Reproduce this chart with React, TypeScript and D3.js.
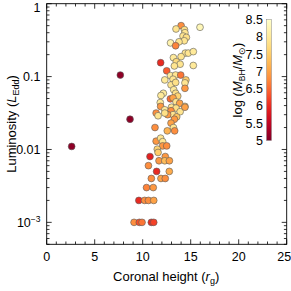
import React from "react";
import * as d3 from "d3";

const heights = [
  2.6, 7.67, 8.68,
  14.0, 13.47, 14.35, 14.4, 14.2, 14.55, 15.97, 14.33, 13.78, 12.9, 13.43,
  14.44, 14.75, 15.27, 14.0, 13.2, 13.5, 13.9, 13.3, 15.27, 11.87, 12.5,
  12.3, 12.9, 13.43, 13.96, 13.16, 12.95, 13.43, 14.5, 14.4, 13.23, 14.4,
  12.15, 11.9, 13.43, 13.65, 12.88, 13.16, 13.47, 13.85, 14.4, 11.83, 11.87,
  12.3, 13.0, 13.47, 12.95, 13.9, 14.4, 11.4, 11.6, 13.16, 12.6, 12.3, 13.54,
  13.3, 12.95, 13.2, 12.56, 13.33, 11.28, 11.4, 11.87, 12.08, 12.08, 12.5,
  11.52, 11.6, 10.76, 12.35, 11.7, 12.3, 12.78, 10.6, 11.45, 12.77,
  10.9, 11.9, 12.35, 10.4, 11.1, 9.6, 10.2, 10.6, 11.15, 9.1, 9.65, 9.93, 10.9, 11.15,
];

const luminosities = [
  0.011, 0.105, 0.026,
  0.5, 0.45, 0.44, 0.4, 0.36, 0.345, 0.475, 0.31, 0.3, 0.29, 0.265,
  0.21, 0.21, 0.22, 0.188, 0.182, 0.16, 0.148, 0.14, 0.142, 0.155, 0.12,
  0.09, 0.103, 0.105, 0.105, 0.092, 0.077, 0.083, 0.09, 0.082, 0.066, 0.069,
  0.059, 0.055, 0.059, 0.054, 0.0495, 0.051, 0.045, 0.043, 0.039, 0.044, 0.039,
  0.035, 0.038, 0.037, 0.034, 0.033, 0.038, 0.0316, 0.029, 0.03, 0.03, 0.0316, 0.028,
  0.026, 0.023, 0.02, 0.018, 0.018, 0.02, 0.013, 0.0143, 0.0128, 0.0112, 0.0112,
  0.0101, 0.0091, 0.008, 0.008, 0.007, 0.007, 0.007, 0.006, 0.005, 0.005,
  0.004, 0.004, 0.004, 0.003, 0.003, 0.002, 0.002, 0.002, 0.002, 0.001, 0.001, 0.001, 0.001, 0.001,
];

const masses = [
  5.1, 5.1, 5.1,
  6.8, 7.9, 7.8, 7.9, 7.9, 7.8, 8.3, 7.9, 7.9, 8.2, 6.7,
  7.9, 7.9, 8.0, 7.9, 8.0, 7.7, 7.9, 7.9, 8.0, 6.0, 6.4,
  8.0, 8.0, 7.9, 6.6, 7.9, 7.9, 7.8, 7.5, 7.9, 8.0, 6.9,
  8.0, 8.0, 7.8, 7.6, 6.5, 7.0, 7.9, 7.0, 7.9, 8.0, 6.9,
  8.0, 7.9, 7.8, 6.8, 7.9, 7.0, 6.8, 7.9, 7.9, 6.9, 7.8, 7.4,
  6.9, 7.0, 7.9, 7.2, 6.8, 6.8, 6.9, 7.9, 7.9, 6.9, 6.8,
  7.6, 7.5, 5.9, 6.9, 6.9, 7.3, 7.0, 6.8, 6.0, 7.1,
  6.8, 7.0, 6.8, 6.7, 6.9, 6.0, 6.8, 6.8, 7.0, 6.8, 6.3, 6.6, 6.0, 6.2,
];

const xTicks = [0, 5, 10, 15, 20, 25];
const yTicks = [0.001, 0.01, 0.1, 1];
const yTickLabels = ["10-3", "0.01", "0.1", "1"];
const cbTicks = [5, 5.5, 6, 6.5, 7, 7.5, 8, 8.5];
const cbTickLabels = ["5", "5.5", "6", "6.5", "7", "7.5", "8", "8.5"];

const FONT = "'Liberation Sans', Arial, Helvetica, sans-serif";

export default function App() {
  const L = 46.7, R = 286.7, T = 3.7, B = 244.3;
  const x = d3.scaleLinear().domain([0, 25]).range([L, R]);
  const y = d3.scaleLog().domain([5e-4, 1]).range([B, T]);
  const massDomain: [number, number] = [5, 8.5];
  const color = (m: number) =>
    d3.interpolateYlOrRd(1 - (m - massDomain[0]) / (massDomain[1] - massDomain[0]));

  const cbX = 266.5, cbW = 5;
  const cbY = d3.scaleLinear().domain(massDomain).range([140.5, 19.5]);

  const minorX = d3.range(0, 26, 1).filter((v) => v % 5 !== 0);
  const minorY: number[] = [];
  for (let k = -4; k <= -1; k++) {
    for (let m = 2; m <= 9; m++) {
      const v = m * Math.pow(10, k);
      if (v >= 5e-4 && v < 1) minorY.push(v);
    }
  }

  const stops = d3.range(0, 1.0001, 0.05);

  return (
    <svg
      width={291}
      height={291}
      style={{ position: "absolute", left: 0, top: 0, background: "#fff" }}
      fontFamily={FONT}
    >
      <defs>
        <linearGradient id="cb" x1="0" y1="1" x2="0" y2="0">
          {stops.map((s) => (
            <stop key={s} offset={s} stopColor={color(massDomain[0] + s * (massDomain[1] - massDomain[0]))} />
          ))}
        </linearGradient>
      </defs>

      {/* ticks */}
      <g stroke="#000" strokeWidth={0.8}>
        {xTicks.map((t) => (
          <g key={"xt" + t}>
            <line x1={x(t)} x2={x(t)} y1={B} y2={B - 5} />
            <line x1={x(t)} x2={x(t)} y1={T} y2={T + 5} />
          </g>
        ))}
        {minorX.map((t) => (
          <g key={"xm" + t}>
            <line x1={x(t)} x2={x(t)} y1={B} y2={B - 2.8} />
            <line x1={x(t)} x2={x(t)} y1={T} y2={T + 2.8} />
          </g>
        ))}
        {yTicks.map((t) => (
          <g key={"yt" + t}>
            <line x1={L} x2={L + 5} y1={y(t)} y2={y(t)} />
            <line x1={R} x2={R - 5} y1={y(t)} y2={y(t)} />
          </g>
        ))}
        {minorY.map((t) => (
          <g key={"ym" + t}>
            <line x1={L} x2={L + 2.8} y1={y(t)} y2={y(t)} />
            <line x1={R} x2={R - 2.8} y1={y(t)} y2={y(t)} />
          </g>
        ))}
      </g>

      {/* points */}
      <g>
        {heights.map((h, i) => (
          <circle
            key={"p" + i}
            cx={x(h)}
            cy={y(luminosities[i])}
            r={3.4}
            fill={color(masses[i])}
            stroke="#5a5a5a"
            strokeWidth={0.6}
          />
        ))}
      </g>

      <rect x={L} y={T} width={R - L} height={B - T} fill="none" stroke="#000" strokeWidth={0.9} />

      {/* x tick labels */}
      <g fontSize={12.5} textAnchor="middle" fill="#000">
        {xTicks.map((t, i) => (
          <text key={"xl" + t} x={i === xTicks.length - 1 ? x(t) - 2.5 : x(t)} y={260.5}>
            {t}
          </text>
        ))}
      </g>

      {/* y tick labels */}
      <g fontSize={12.5} textAnchor="end" fill="#000">
        {yTicks.map((t, i) =>
          yTickLabels[i] === "10-3" ? (
            <text key={"yl" + t} x={40.5} y={y(t) + 4.5}>
              10<tspan fontSize={8.5} dy={-5}>−3</tspan>
            </text>
          ) : (
            <text key={"yl" + t} x={40.5} y={i === yTicks.length - 1 ? y(t) + 8.2 : y(t) + 4.5}>
              {yTickLabels[i]}
            </text>
          )
        )}
      </g>

      {/* axis titles */}
      <text x={(L + R) / 2 - 0.5} y={281} fontSize={13} textAnchor="middle">
        Coronal height (<tspan fontStyle="italic">r</tspan>
        <tspan fontSize={9} dy={3}>g</tspan>
        <tspan dy={-3}>)</tspan>
      </text>
      <text transform="translate(15.5,124) rotate(-90)" fontSize={13} textAnchor="middle">
        Luminosity (<tspan fontStyle="italic">L</tspan>
        <tspan fontSize={9} dy={3}>Edd</tspan>
        <tspan dy={-3}>)</tspan>
      </text>

      {/* colorbar */}
      <rect x={cbX} y={cbY(massDomain[1])} width={cbW} height={cbY(massDomain[0]) - cbY(massDomain[1])} fill="url(#cb)" stroke="#888" strokeWidth={0.5} />
      <g fontSize={12.5} textAnchor="end">
        {cbTicks.map((t, i) => (
          <text key={"cb" + t} x={263} y={cbY(t) + 4.5}>
            {cbTickLabels[i]}
          </text>
        ))}
      </g>
      <text transform="translate(242,80) rotate(-90)" fontSize={13} textAnchor="middle">
        log (<tspan fontStyle="italic">M</tspan>
        <tspan fontSize={8.5} dy={3}>BH</tspan>
        <tspan dy={-3}>/</tspan>
        <tspan fontStyle="italic">M</tspan>
        <tspan fontSize={8.5} dy={3}>⊙</tspan>
        <tspan dy={-3}>)</tspan>
      </text>
    </svg>
  );
}
